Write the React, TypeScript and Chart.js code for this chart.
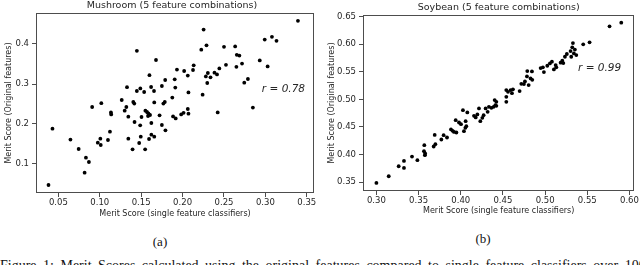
import React, { useEffect, useRef } from "react";
import { Chart, registerables } from "chart.js";

Chart.register(...registerables);

// ---------- Data ----------
const mushroomX = [
  0.0381, 0.0429, 0.0646, 0.0745, 0.0833, 0.0869, 0.0817, 0.0976, 0.1007, 0.1012,
  0.1099, 0.1123, 0.0908, 0.1019, 0.1135, 0.1138, 0.1265, 0.1301, 0.1321, 0.1345,
  0.1405, 0.1417, 0.142, 0.1488, 0.1504, 0.1551, 0.157, 0.1587, 0.1583, 0.1607,
  0.1658, 0.1623, 0.1722, 0.175, 0.1793, 0.1768, 0.1785, 0.1345, 0.1495, 0.1476,
  0.1396, 0.1548, 0.1595, 0.1623, 0.1658, 0.1876, 0.1885, 0.1917, 0.1983, 0.2012,
  0.2063, 0.2071, 0.2424, 0.2849, 0.1448, 0.1679, 0.16, 0.179, 0.1329, 0.1448,
  0.149, 0.1536, 0.162, 0.1655, 0.175, 0.3393, 0.2254, 0.2289, 0.2226, 0.25,
  0.2635, 0.2992, 0.3079, 0.3134, 0.2655, 0.2686, 0.2932, 0.3027, 0.2718, 0.265,
  0.2524, 0.2444, 0.2385, 0.2416, 0.2337, 0.2305, 0.2281, 0.2298, 0.2134, 0.2126,
  0.2019, 0.1932, 0.2063, 0.1905, 0.1912, 0.2071, 0.2242, 0.2745, 0.2789,
];
const mushroomY = [
  0.0475, 0.1883, 0.161, 0.1375, 0.1158, 0.105, 0.0783, 0.1533, 0.1633, 0.1475,
  0.16, 0.1808, 0.2425, 0.252, 0.229, 0.224, 0.26, 0.2333, 0.2425, 0.2183,
  0.255, 0.251, 0.205, 0.1967, 0.2175, 0.2333, 0.23, 0.2267, 0.22, 0.2225,
  0.254, 0.2025, 0.2217, 0.1975, 0.1842, 0.251, 0.255, 0.1633, 0.1683, 0.1525,
  0.1367, 0.1367, 0.1625, 0.1733, 0.1683, 0.266, 0.219, 0.214, 0.224, 0.228,
  0.2375, 0.2258, 0.229, 0.241, 0.383, 0.36, 0.322, 0.31, 0.292, 0.2825,
  0.289, 0.28, 0.2925, 0.2825, 0.295, 0.458, 0.436, 0.3968, 0.3858, 0.393,
  0.394, 0.411, 0.418, 0.408, 0.373, 0.371, 0.359, 0.344, 0.351, 0.343,
  0.348, 0.339, 0.3283, 0.324, 0.3167, 0.3275, 0.319, 0.3025, 0.3467, 0.335,
  0.3325, 0.336, 0.321, 0.3117, 0.291, 0.279, 0.2733, 0.3033, 0.3125,
];

const soybeanX = [
  0.3, 0.3146, 0.3264, 0.3327, 0.3327, 0.3422, 0.3486, 0.3568, 0.3564, 0.3578,
  0.3575, 0.3691, 0.3679, 0.3699, 0.377, 0.3797, 0.3837, 0.3884, 0.3904, 0.392,
  0.3948, 0.394, 0.3979, 0.4003, 0.4038, 0.4058, 0.4066, 0.4026, 0.4078, 0.4157,
  0.4177, 0.4197, 0.4232, 0.4256, 0.4271, 0.4216, 0.4295, 0.4319, 0.4334, 0.4363,
  0.439, 0.4422, 0.4402, 0.4422, 0.441, 0.454, 0.454, 0.4619, 0.4591, 0.454,
  0.456, 0.4607, 0.4698, 0.4718, 0.4749, 0.4805, 0.4761, 0.4785, 0.4828, 0.4848,
  0.4789, 0.4844, 0.4947, 0.4974, 0.4986, 0.5026, 0.5057, 0.5081, 0.5104, 0.5133,
  0.5125, 0.5184, 0.5216, 0.5204, 0.5235, 0.5258, 0.531, 0.537, 0.5341, 0.5302,
  0.5353, 0.5322, 0.533, 0.5452, 0.5527, 0.5764, 0.5903, 0.4055,
];
const soybeanY = [
  0.3488, 0.3609, 0.379, 0.3886, 0.376, 0.3965, 0.3899, 0.417, 0.4062, 0.402,
  0.399, 0.4357, 0.4147, 0.4188, 0.4273, 0.4351, 0.431, 0.4455, 0.443, 0.4411,
  0.44, 0.4623, 0.4581, 0.455, 0.4424, 0.4605, 0.4514, 0.4804, 0.4763, 0.4701,
  0.4672, 0.4726, 0.4605, 0.4665, 0.4714, 0.4835, 0.4835, 0.4774, 0.4864, 0.4846,
  0.4864, 0.4882, 0.4986, 0.4955, 0.4895, 0.5045, 0.4955, 0.518, 0.5167, 0.5167,
  0.5136, 0.5112, 0.5149, 0.528, 0.5275, 0.5257, 0.5323, 0.5415, 0.5378, 0.5353,
  0.551, 0.5505, 0.5565, 0.5578, 0.5493, 0.5607, 0.565, 0.568, 0.554, 0.5578,
  0.562, 0.5662, 0.5656, 0.5698, 0.577, 0.582, 0.577, 0.58, 0.583, 0.5873,
  0.59, 0.594, 0.6018, 0.5995, 0.603, 0.632, 0.6386, 0.4484,
];

const mushroomXTicks = [0.05, 0.1, 0.15, 0.2, 0.25, 0.3, 0.35];
const mushroomXTickLabels = ["0.05", "0.10", "0.15", "0.20", "0.25", "0.30", "0.35"];
const mushroomYTicks = [0.1, 0.2, 0.3, 0.4];
const mushroomYTickLabels = ["0.1", "0.2", "0.3", "0.4"];
const soybeanXTicks = [0.3, 0.35, 0.4, 0.45, 0.5, 0.55, 0.6];
const soybeanXTickLabels = ["0.30", "0.35", "0.40", "0.45", "0.50", "0.55", "0.60"];
const soybeanYTicks = [0.35, 0.4, 0.45, 0.5, 0.55, 0.6, 0.65];
const soybeanYTickLabels = ["0.35", "0.40", "0.45", "0.50", "0.55", "0.60", "0.65"];

const xAxisTitle = "Merit Score (single feature classifiers)";
const yAxisTitle = "Merit Score (Original features)";
const figureCaption =
  "Figure 1: Merit Scores calculated using the original features compared to single feature classifiers over 100";

// ---------- Chart helpers ----------
const FONT = "'DejaVu Sans', sans-serif";
const TEXT = "#262626";
const EDGE = "#4d4d4d";

const framePlugin = {
  id: "frame",
  afterDraw(chart: any, _args: any, opts: any) {
    const { ctx, chartArea: a } = chart;
    ctx.save();
    ctx.strokeStyle = EDGE;
    ctx.lineWidth = 1;
    const l = Math.round(a.left) + 0.5;
    const t = Math.round(a.top) + 0.5;
    const r = Math.round(a.right) - 0.5;
    const b = Math.round(a.bottom) - 0.5;
    ctx.strokeRect(l, t, r - l, b - t);
    ctx.fillStyle = TEXT;
    ctx.textAlign = "center";
    ctx.textBaseline = "middle";
    ctx.font = `9.5px ${FONT}`;
    ctx.fillText(opts.title, (a.left + a.right) / 2 + opts.titleDx, opts.titleY);
    ctx.font = `italic 10.5px ${FONT}`;
    const x = chart.scales.x.getPixelForValue(opts.rX);
    const y = chart.scales.y.getPixelForValue(opts.rY);
    ctx.fillText(opts.rText, x, y);
    ctx.restore();
  },
};

type Cfg = {
  xs: number[];
  ys: number[];
  xTicks: number[];
  xLabels: string[];
  yTicks: number[];
  yLabels: string[];
  xMin: number;
  xMax: number;
  yMin: number;
  yMax: number;
  yWidth: number;
  xHeight: number;
  padTop: number;
  padRight: number;
  xTitlePadBottom: number;
  yTitlePadTop: number;
  title: string;
  titleY: number;
  titleDx: number;
  rText: string;
  rX: number;
  rY: number;
};

function makeConfig(c: Cfg): any {
  const tickFont = { family: FONT, size: 8.5 };
  const titleFont = { family: FONT, size: 8 };
  const grid = {
    display: true,
    drawOnChartArea: false,
    drawTicks: true,
    tickLength: 4,
    color: EDGE,
    lineWidth: 1,
  };
  return {
    type: "scatter",
    data: {
      datasets: [
        {
          data: c.xs.map((x, i) => ({ x, y: c.ys[i] })),
          backgroundColor: "#000",
          borderWidth: 0,
          pointRadius: 1.9,
          pointHoverRadius: 1.9,
        },
      ],
    },
    options: {
      responsive: false,
      animation: false,
      devicePixelRatio: 1,
      layout: { padding: { top: c.padTop, right: c.padRight, left: 0, bottom: 0 } },
      plugins: {
        legend: { display: false },
        tooltip: { enabled: false },
        title: { display: false },
        frame: { title: c.title, titleY: c.titleY, titleDx: c.titleDx, rText: c.rText, rX: c.rX, rY: c.rY },
      },
      scales: {
        x: {
          type: "linear",
          min: c.xMin,
          max: c.xMax,
          grid,
          border: { display: false },
          afterBuildTicks: (s: any) => {
            s.ticks = c.xTicks.map((v) => ({ value: v }));
          },
          afterFit: (s: any) => {
            s.height = c.xHeight;
          },
          ticks: {
            font: tickFont,
            color: TEXT,
            padding: 1,
            maxRotation: 0,
            autoSkip: false,
            callback: (v: number) => {
              const i = c.xTicks.findIndex((t) => Math.abs(t - v) < 1e-9);
              return i >= 0 ? c.xLabels[i] : "";
            },
          },
          title: {
            display: true,
            text: xAxisTitle,
            font: titleFont,
            color: TEXT,
            padding: { top: 0, bottom: c.xTitlePadBottom },
          },
        },
        y: {
          type: "linear",
          min: c.yMin,
          max: c.yMax,
          grid,
          border: { display: false },
          afterBuildTicks: (s: any) => {
            s.ticks = c.yTicks.map((v) => ({ value: v }));
          },
          afterFit: (s: any) => {
            s.width = c.yWidth;
          },
          ticks: {
            font: tickFont,
            color: TEXT,
            padding: 3,
            autoSkip: false,
            callback: (v: number) => {
              const i = c.yTicks.findIndex((t) => Math.abs(t - v) < 1e-9);
              return i >= 0 ? c.yLabels[i] : "";
            },
          },
          title: {
            display: true,
            text: yAxisTitle,
            font: titleFont,
            color: TEXT,
            padding: { top: c.yTitlePadTop, bottom: 0 },
          },
        },
      },
    },
    plugins: [framePlugin],
  };
}

function ScatterPanel({ cfg, left }: { cfg: Cfg; left: number }) {
  const ref = useRef<HTMLCanvasElement | null>(null);
  useEffect(() => {
    if (!ref.current) return;
    const chart = new Chart(ref.current, makeConfig(cfg));
    return () => chart.destroy();
  }, []);
  return (
    <canvas
      ref={ref}
      width={320}
      height={225}
      style={{ position: "absolute", left, top: 0, width: 320, height: 225 }}
    />
  );
}

const mushroomCfg: Cfg = {
  xs: mushroomX,
  ys: mushroomY,
  xTicks: mushroomXTicks,
  xLabels: mushroomXTickLabels,
  yTicks: mushroomYTicks,
  yLabels: mushroomYTickLabels,
  xMin: 0.023,
  xMax: 0.3587,
  yMin: 0.0275,
  yMax: 0.4775,
  yWidth: 36,
  xHeight: 32,
  padTop: 13,
  padRight: 6,
  xTitlePadBottom: 6,
  yTitlePadTop: 4,
  title: "Mushroom (5 feature combinations)",
  titleY: 5.5,
  titleDx: -3,
  rText: "r = 0.78",
  rX: 0.3218,
  rY: 0.2875,
};

const soybeanCfg: Cfg = {
  xs: soybeanX,
  ys: soybeanY,
  xTicks: soybeanXTicks,
  xLabels: soybeanXTickLabels,
  yTicks: soybeanYTicks,
  yLabels: soybeanYTickLabels,
  xMin: 0.2841,
  xMax: 0.6059,
  yMin: 0.3342,
  yMax: 0.6525,
  yWidth: 43,
  xHeight: 34,
  padTop: 15,
  padRight: 5,
  xTitlePadBottom: 9.5,
  yTitlePadTop: 7,
  title: "Soybean (5 feature combinations)",
  titleY: 7.5,
  titleDx: 0,
  rText: "r = 0.99",
  rX: 0.5646,
  rY: 0.5565,
};

export default function App() {
  const serif = "'Liberation Serif', 'Times New Roman', serif";
  return (
    <div
      style={{
        position: "fixed",
        left: 0,
        top: 0,
        width: 640,
        height: 265,
        overflow: "hidden",
        background: "#fff",
      }}
    >
      <ScatterPanel cfg={mushroomCfg} left={0} />
      <ScatterPanel cfg={soybeanCfg} left={320} />
      <div
        style={{
          position: "absolute",
          left: 160,
          top: 235,
          transform: "translateX(-50%)",
          font: `13px ${serif}`,
          lineHeight: "13px",
          color: "#111",
        }}
      >
        (a)
      </div>
      <div
        style={{
          position: "absolute",
          left: 483,
          top: 232,
          transform: "translateX(-50%)",
          font: `13px ${serif}`,
          lineHeight: "13px",
          color: "#111",
        }}
      >
        (b)
      </div>
      <div
        style={{
          position: "absolute",
          left: 0,
          top: 259,
          whiteSpace: "nowrap",
          font: `14px ${serif}`,
          lineHeight: "14px",
          color: "#111",
          wordSpacing: "3px",
        }}
      >
        {figureCaption}
      </div>
    </div>
  );
}
